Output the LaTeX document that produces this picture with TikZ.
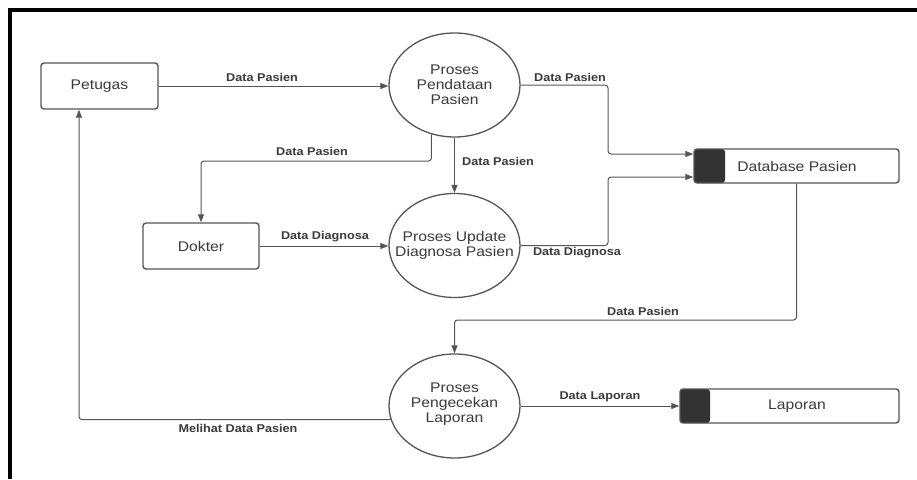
\documentclass[tikz,border=0pt]{standalone}
\usepackage{fontspec}
\setmainfont{Liberation Sans}[FakeStretch=1.12]
\usetikzlibrary{shapes.geometric,arrows.meta,calc}
\definecolor{ln}{HTML}{555555}
\definecolor{tx}{HTML}{3A3A3A}
\definecolor{dk}{HTML}{333333}
\begin{document}
\begin{tikzpicture}[x=1pt,y=-1pt,
  ent/.style={draw=ln,line width=1.4pt,rounded corners=3pt,minimum width=117pt,minimum height=46pt,inner sep=0pt,text=tx,font=\fontsize{14}{15}\selectfont},
  proc/.style={draw=ln,line width=1.3pt,ellipse,minimum width=131pt,minimum height=104pt,inner sep=0pt},
  ptext/.style={inner sep=0pt,align=center,text=tx,font=\fontsize{14}{15}\selectfont},
  store/.style={draw=ln,line width=1.4pt,rounded corners=3pt,minimum height=34pt,inner sep=0pt},
  lbl/.style={inner sep=0pt,text=tx,font=\bfseries\fontsize{11.3}{13}\selectfont},
  flow/.style={draw=ln,line width=1pt,rounded corners=3pt,-{Triangle[length=8pt,width=6pt]}}]
\useasboundingbox (0,0) rectangle (917,479);
\fill[white] (0,0) rectangle (917,479);
% frame
\draw[line width=4pt,black] (10,479) -- (10,10) -- (917,10);
% nodes
\node[ent] (petugas) at (99.5,86) {Petugas};
\node[ent,minimum width=116pt] (dokter) at (201,246) {Dokter};
\node[proc] (p1) at (454.5,85) {};
\node[ptext] (p1t) at (p1.center) {Proses\\Pendataan\\Pasien};
\node[proc] (p2) at (454.5,245.5) {};
\node[ptext] (p2t) at (p2.center) {Proses Update\\Diagnosa Pasien};
\node[proc] (p3) at (454.5,406) {};
\node[ptext] (p3t) at ($(p3.center)+(0,-2)$) {Proses\\Pengecekan\\Laporan};
% stores
\fill[dk,rounded corners=3pt] (694,149) rectangle (725,183);
\node[store,minimum width=205pt] (db) at (796.5,166) {};
\node[ptext] (dbt) at (797,166) {Database Pasien};
\fill[dk,rounded corners=3pt] (680,389) rectangle (710,423);
\node[store,minimum width=219pt] (lap) at (789.5,406) {};
\node[ptext] (lapt) at (797,406) {Laporan};
% helper coordinates
\coordinate (ya) at (0,161);
\coordinate (xa) at (608,0);
\coordinate (yb) at (0,320);
\coordinate (dbin1) at ($(db.west)+(0,-12)$);
\coordinate (dbin2) at ($(db.west)+(0,11)$);
\coordinate (pin) at ($(petugas.south)+(-20.5,0)$);
% connectors
\draw[flow] (petugas.east) -- (petugas.east -| p1.west);
\draw[flow] (p1.245) |- (dokter.north |- ya) -- (dokter.north);
\draw[flow] (p1.south) -- (p2.north);
\draw[flow] (dokter.east) -- (dokter.east -| p2.west);
\draw[flow] (p1.east) -| (xa |- dbin1) -- (dbin1);
\draw[flow] (p2.east) -| (xa |- dbin2) -- (dbin2);
\draw[flow] (db.south) |- (p3.north |- yb) -- (p3.north);
\draw[flow] (p3.east) -- (p3.east -| lap.west);
\draw[flow] (p3.192.5) -| (pin);
% labels
\node[lbl] (l1) at (262,77) {Data Pasien};
\node[lbl] (l2) at (312,151) {Data Pasien};
\node[lbl] (l3) at (498,161) {Data Pasien};
\node[lbl] (l4) at (325,237) {Data Diagnosa};
\node[lbl] (l5) at (570,77) {Data Pasien};
\node[lbl] (l6) at (577,253) {Data Diagnosa};
\node[lbl] (l7) at (643,311) {Data Pasien};
\node[lbl] (l8) at (600,397) {Data Laporan};
\node[lbl] (l9) at (238,428) {Melihat Data Pasien};
\end{tikzpicture}
\end{document}
